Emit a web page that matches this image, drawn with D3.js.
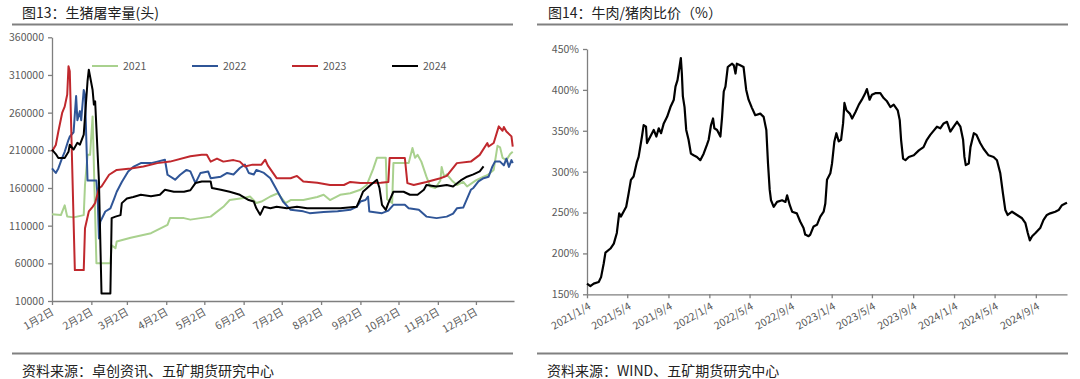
<!DOCTYPE html>
<html>
<head>
<meta charset="utf-8">
<script src="https://cdn.jsdelivr.net/npm/d3@7/dist/d3.min.js"></script>
<style>
  body { margin: 0; background: #fff; }
  text { font-family: "Noto Sans CJK SC", "Noto Sans", sans-serif; }
</style>
</head>
<body>
<svg id="chart" width="1080" height="379"></svg>
<script>
// ---- 图13 生猪屠宰量 (头), [月-日, 值]
var s2021 = [["01-02",125000],["01-09",124000],["01-12",137000],["01-14",122000],["01-19",121000],["01-27",124000],
  ["01-28",164000],["01-30",204000],["02-01",204000],["02-03",255000],["02-06",60000],["02-17",60000],["02-18",84000],
  ["02-21",80000],["02-22",89000],["03-05",94000],["03-21",100000],["04-03",111000],["04-05",120000],["04-16",120000],
  ["04-21",118000],["05-07",122000],["05-17",135000],["05-22",144000],["06-02",146600],["06-07",148700],["06-12",140000],
  ["06-16",142000],["06-23",148700],["06-29",153000],["07-05",140000],["07-09",144000],["07-19",144000],["07-30",148000],
  ["08-04",151000],["08-09",144000],["08-17",151000],["08-25",153000],["09-02",157600],["09-07",164000],["09-12",185000],
  ["09-15",200000],["09-22",200000],["09-23",145000],["09-27",140000],["09-28",193000],["10-10",193000],["10-13",213000],
  ["10-15",200000],["10-17",204000],["10-20",195000],["10-24",175000],["10-27",162000],["10-31",160000],["11-04",170000],
  ["11-05",188000],["11-07",175000],["11-09",178000],["11-13",170000],["11-17",164000],["11-22",168000],["11-25",162000],
  ["12-02",170000],["12-08",175000],["12-11",177000],["12-16",184000],["12-19",216000],["12-21",214000],["12-23",200000],
  ["12-26",197000],["12-29",205000],["12-31",208000]];

var s2022 = [["01-02",186000],["01-05",180000],["01-07",186000],["01-10",200000],["01-12",208000],["01-15",224000],
  ["01-16",228000],["01-19",234000],["01-21",282000],["01-22",250000],["01-24",262000],["01-25",250000],["01-27",290000],
  ["01-28",284000],["01-30",170000],["02-04",170000],["02-06",170000],["02-07",146500],["02-08",93000],["02-09",115000],
  ["02-13",128800],["02-17",133000],["02-20",146000],["02-22",155000],["02-26",168000],["03-03",182000],["03-07",188000],
  ["03-13",193000],["03-21",193000],["03-26",195000],["04-01",197500],["04-03",177600],["04-09",171000],["04-13",177600],
  ["04-18",184000],["04-21",182000],["04-25",166500],["04-29",180000],["05-05",182000],["05-07",173000],["05-15",175000],
  ["05-20",180000],["05-25",178000],["05-30",186500],["06-03",191000],["06-06",180000],["06-10",178000],["06-12",184000],
  ["06-18",180000],["06-23",173000],["06-28",157600],["07-03",142000],["07-09",131000],["07-19",129000],["07-24",126600],
  ["08-04",128000],["08-15",129000],["08-25",131000],["08-30",135000],["09-02",142000],["09-06",144000],["09-08",148700],
  ["09-09",128800],["09-19",126600],["09-24",130000],["09-28",137700],["10-07",137700],["10-10",133000],["10-18",131000],
  ["10-24",122000],["11-01",120000],["11-09",122000],["11-14",126000],["11-17",133000],["11-22",134000],["11-28",157600],
  ["11-30",160000],["12-04",168700],["12-08",173000],["12-12",175000],["12-15",188600],["12-17",195000],["12-21",195000],
  ["12-24",190000],["12-26",199000],["12-28",188000],["12-30",197000],["12-31",193000]];

var s2023 = [["01-02",208600],["01-05",217000],["01-07",235000],["01-10",259600],["01-12",268000],["01-14",284000],
  ["01-15",321600],["01-16",315000],["01-20",51000],["01-27",51000],["01-28",106600],["01-31",128800],["02-03",135000],
  ["02-05",140000],["02-08",159800],["02-10",162000],["02-16",177600],["02-22",184000],["03-05",186000],["03-15",188600],
  ["03-26",193000],["04-05",195000],["04-21",202000],["04-30",204000],["05-04",204000],["05-07",195000],["05-12",199000],
  ["05-17",195000],["05-25",197000],["05-30",195000],["06-03",188600],["06-09",191000],["06-16",191000],["06-19",197500],
  ["06-21",190000],["06-28",173000],["07-09",173000],["07-14",176000],["07-19",168700],["07-30",167000],["08-09",164000],
  ["08-20",164000],["08-25",168000],["09-02",166500],["09-18",167000],["09-24",168000],["09-25",199800],["10-07",199800],
  ["10-09",166500],["10-14",164000],["10-24",168000],["11-04",173000],["11-09",176000],["11-17",193000],["11-28",195000],
  ["12-05",204000],["12-11",219700],["12-12",215000],["12-16",219700],["12-20",241800],["12-23",236000],["12-24",241000],
  ["12-26",235000],["12-30",228500],["12-31",215000]];

var s2024 = [["01-02",210800],["01-05",205000],["01-07",199700],["01-12",199700],["01-15",208000],["01-16",217500],
  ["01-19",211000],["01-22",220000],["01-24",217500],["01-27",230800],["01-30",301700],["01-31",317000],["02-03",290000],
  ["02-04",270700],["02-05",275000],["02-08",168700],["02-10",20000],["02-17",20000],["02-18",120000],["02-21",122000],
  ["02-25",124000],["02-26",139900],["03-02",146000],["03-07",148000],["03-13",151000],["03-21",149000],["03-28",151000],
  ["04-01",157600],["04-08",155000],["04-16",155000],["04-21",157000],["04-25",166500],["04-30",168700],["05-07",168700],
  ["05-08",159900],["05-15",157600],["05-22",155000],["05-30",151000],["06-06",144000],["06-10",142000],["06-12",133000],
  ["06-15",124400],["06-18",135000],["06-23",133000],["06-28",135000],["07-06",133000],["07-14",135000],["07-22",133000],
  ["08-04",133000],["08-17",133000],["08-30",135000],["09-02",146600],["09-04",155000],["09-10",164000],["09-15",171000],
  ["09-17",160000],["09-19",137700],["09-22",131000],["09-24",140000],["09-28",155000],["10-06",155000],["10-11",151000],
  ["10-17",151000],["10-22",157600],["10-24",164000],["11-01",162000],["11-09",164000],["11-14",162000],["11-20",170000],
  ["11-25",175000],["11-30",178000],["12-05",182000],["12-08",188600]];

var seriesNames = ["2021", "2022", "2023", "2024"];
var seriesColors = ["#a9d18e", "#2f5597", "#c0282d", "#000000"];
var yTicksL = [10000, 60000, 110000, 160000, 210000, 260000, 310000, 360000];

// ---- 图14 牛肉/猪肉比价 (%)
var ratio = [["2021-01-04",163],["2021-01-14",160],["2021-01-24",163],["2021-02-08",165],["2021-02-15",171],["2021-02-23",188],
  ["2021-02-28",201],["2021-03-15",206],["2021-03-25",212],["2021-04-03",225],["2021-04-10",249],["2021-04-15",245],
  ["2021-04-23",251],["2021-05-01",257],["2021-05-08",273],["2021-05-15",290],["2021-05-23",294],["2021-06-02",312],
  ["2021-06-07",318],["2021-06-17",343],["2021-06-22",357],["2021-06-29",355],["2021-07-02",335],["2021-07-12",343],
  ["2021-07-22",351],["2021-07-30",343],["2021-08-06",353],["2021-08-13",347],["2021-08-21",359],["2021-08-31",367],
  ["2021-09-10",379],["2021-09-20",388],["2021-09-25",404],["2021-10-01",412],["2021-10-07",428],["2021-10-11",439],
  ["2021-10-14",420],["2021-10-17",392],["2021-10-22",379],["2021-10-27",351],["2021-11-03",339],["2021-11-10",322],
  ["2021-11-18",320],["2021-11-28",318],["2021-12-08",314],["2021-12-18",322],["2021-12-28",333],["2022-01-02",339],
  ["2022-01-09",357],["2022-01-15",365],["2022-01-19",353],["2022-01-27",351],["2022-02-06",343],["2022-02-11",367],
  ["2022-02-16",398],["2022-02-21",404],["2022-02-28",428],["2022-03-06",430],["2022-03-13",432],["2022-03-18",430],
  ["2022-03-23",420],["2022-03-27",432],["2022-04-06",430],["2022-04-16",428],["2022-04-24",400],["2022-05-01",388],
  ["2022-05-11",378],["2022-05-21",369],["2022-06-05",371],["2022-06-15",367],["2022-06-23",351],["2022-06-28",310],
  ["2022-07-03",278],["2022-07-07",265],["2022-07-15",257],["2022-07-25",263],["2022-08-09",265],["2022-08-19",263],
  ["2022-08-24",271],["2022-09-01",259],["2022-09-08",251],["2022-09-22",249],["2022-10-02",239],["2022-10-12",231],
  ["2022-10-17",223],["2022-10-27",221],["2022-11-01",223],["2022-11-11",233],["2022-11-21",235],["2022-12-01",245],
  ["2022-12-11",251],["2022-12-16",261],["2022-12-21",290],["2022-12-31",298],["2023-01-05",310],["2023-01-12",337],
  ["2023-01-18",347],["2023-01-25",337],["2023-02-01",339],["2023-02-07",359],["2023-02-11",384],["2023-02-17",375],
  ["2023-02-27",371],["2023-03-06",365],["2023-03-16",373],["2023-03-26",382],["2023-04-04",388],["2023-04-14",396],
  ["2023-04-19",401],["2023-04-27",388],["2023-05-04",394],["2023-05-14",396],["2023-05-29",396],["2023-06-08",390],
  ["2023-06-18",386],["2023-06-28",379],["2023-07-08",382],["2023-07-20",375],["2023-07-26",363],["2023-07-30",339],
  ["2023-08-05",316],["2023-08-12",314],["2023-08-22",318],["2023-09-06",320],["2023-09-21",326],["2023-10-05",330],
  ["2023-10-15",339],["2023-10-25",345],["2023-11-02",349],["2023-11-14",355],["2023-11-24",353],["2023-12-04",359],
  ["2023-12-14",361],["2023-12-24",349],["2024-01-03",355],["2024-01-13",361],["2024-01-23",355],["2024-01-31",339],
  ["2024-02-04",318],["2024-02-08",308],["2024-02-17",310],["2024-02-22",330],["2024-03-03",347],["2024-03-11",345],
  ["2024-03-22",335],["2024-04-01",328],["2024-04-16",320],["2024-05-01",318],["2024-05-11",314],["2024-05-21",298],
  ["2024-05-29",273],["2024-06-05",253],["2024-06-12",247],["2024-06-25",251],["2024-07-10",247],["2024-07-25",243],
  ["2024-08-04",237],["2024-08-11",225],["2024-08-17",216],["2024-08-24",221],["2024-09-03",225],["2024-09-17",231],
  ["2024-09-27",241],["2024-10-07",247],["2024-10-17",249],["2024-11-01",251],["2024-11-11",253],["2024-11-21",259],
  ["2024-12-01",261],["2024-12-06",262]];
var ratioTicks = ["2021-01-04","2021-05-04","2021-09-04","2022-01-04","2022-05-04","2022-09-04",
  "2023-01-04","2023-05-04","2023-09-04","2024-01-04","2024-05-04","2024-09-04"];
var yTicksR = [150, 200, 250, 300, 350, 400, 450];

var parse = d3.timeParse("%Y-%m-%d");
var svg = d3.select("#chart");
var axisColor = "#7f7f7f", labelColor = "#595959";

function styleAxis(g) {
  g.select(".domain").attr("stroke", axisColor).attr("stroke-width", 1.3);
  g.selectAll(".tick line").attr("stroke", axisColor).attr("stroke-width", 1.3);
  g.selectAll(".tick text").attr("fill", labelColor).style("font-size", "10.5px")
    .style("font-family", '"Noto Sans CJK SC", "Noto Sans", sans-serif');
}

// header / footer rules
[[12, 513], [537, 1068]].forEach(function(r) {
  svg.append("line").attr("x1", r[0]).attr("x2", r[1]).attr("y1", 24.5).attr("y2", 24.5)
    .attr("stroke", "#808080").attr("stroke-width", 1.8);
  svg.append("line").attr("x1", r[0]).attr("x2", r[1]).attr("y1", 353.5).attr("y2", 353.5)
    .attr("stroke", "#808080").attr("stroke-width", 1.8);
});
svg.append("text").attr("x", 22).attr("y", 17.5).attr("fill", "#222").style("font-size", "14px").text("图13：生猪屠宰量(头)");
svg.append("text").attr("x", 548).attr("y", 17.5).attr("fill", "#222").style("font-size", "14px").text("图14：牛肉/猪肉比价（%）");
svg.append("text").attr("x", 22).attr("y", 376).attr("fill", "#222").style("font-size", "14px").text("资料来源：卓创资讯、五矿期货研究中心");
svg.append("text").attr("x", 547).attr("y", 376).attr("fill", "#222").style("font-size", "14px").text("资料来源：WIND、五矿期货研究中心");

// ---- left chart
var xL = d3.scaleTime().domain([parse("2023-01-02"), parse("2024-01-01")]).range([52, 514]);
var yL = d3.scaleLinear().domain([10000, 360000]).range([301, 37.3]);
var monthTicks = d3.range(0, 12).map(function(m) { return new Date(2023, m, 2); });

var gyL = svg.append("g").attr("transform", "translate(52,0)")
  .call(d3.axisLeft(yL).tickValues(yTicksL).tickSize(4).tickSizeOuter(0).tickPadding(4).tickFormat(d3.format("d")));
styleAxis(gyL);

var gxL = svg.append("g").attr("transform", "translate(0,301)")
  .call(d3.axisBottom(xL).tickValues(monthTicks).tickSize(4).tickSizeOuter(0)
    .tickFormat(function(d) { return (d.getMonth() + 1) + "月2日"; }));
styleAxis(gxL);
gxL.selectAll(".tick text").attr("text-anchor", "end").attr("dy", 0).attr("y", 0)
  .attr("transform", "translate(2,13) rotate(-30)");

var lineL = d3.line()
  .x(function(d) { return xL(parse("2023-" + d[0])); })
  .y(function(d) { return yL(d[1]); });

[s2021, s2022, s2023, s2024].forEach(function(s, i) {
  svg.append("path").datum(s).attr("fill", "none").attr("stroke", seriesColors[i])
    .attr("stroke-width", 2).attr("stroke-linejoin", "round").attr("d", lineL);
});

// legend
var leg = svg.append("g").selectAll("g").data(seriesNames).enter().append("g")
  .attr("transform", function(d, i) { return "translate(" + (92 + i * 100) + ",66)"; });
leg.append("line").attr("x1", 0).attr("x2", 26).attr("stroke", function(d, i) { return seriesColors[i]; })
  .attr("stroke-width", 2);
leg.append("text").attr("x", 31).attr("dy", "0.35em").attr("fill", labelColor).style("font-size", "10.5px")
  .text(function(d) { return d; });

// ---- right chart
var xR = d3.scaleTime().domain([parse("2021-01-04"), parse("2024-12-06")]).range([587, 1067]);
var yR = d3.scaleLinear().domain([150, 450]).range([294.3, 49]);
var fmtR = d3.timeFormat("%Y/%-m/%-d");

var gyR = svg.append("g").attr("transform", "translate(587,0)")
  .call(d3.axisLeft(yR).tickValues(yTicksR).tickSize(4).tickSizeOuter(0).tickPadding(4)
    .tickFormat(function(d) { return d + "%"; }));
styleAxis(gyR);

var gxR = svg.append("g").attr("transform", "translate(0,294.3)")
  .call(d3.axisBottom(xR).tickValues(ratioTicks.map(parse)).tickSize(4).tickSizeOuter(0).tickFormat(fmtR));
styleAxis(gxR);
gxR.selectAll(".tick text").attr("text-anchor", "end").attr("dy", 0).attr("y", 0)
  .attr("transform", "translate(4,14) rotate(-30)");

var lineR = d3.line()
  .x(function(d) { return xR(parse(d[0])); })
  .y(function(d) { return yR(d[1]); });
svg.append("path").datum(ratio).attr("fill", "none").attr("stroke", "#000")
  .attr("stroke-width", 2.2).attr("stroke-linejoin", "round").attr("d", lineR);
</script>
</body>
</html>
